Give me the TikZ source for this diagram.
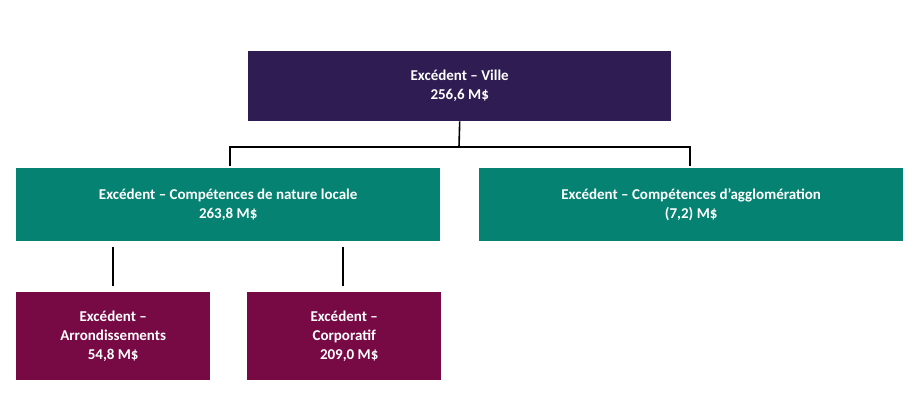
\documentclass[tikz,border=0pt]{standalone}
\usepackage{fontspec}
\setmainfont{Carlito}
\definecolor{topc}{HTML}{2F1C52}
\definecolor{greenc}{HTML}{058271}
\definecolor{wine}{HTML}{770A45}
\begin{document}
\begin{tikzpicture}[x=1pt,y=-1pt,
  box/.style={draw=none,text=white,font=\bfseries\fontsize{15}{19}\selectfont,align=center,inner sep=0pt,anchor=north west},
  conn/.style={line width=1.6pt,black}]
\useasboundingbox (0,0) rectangle (913,401);
\node[box,fill=topc,minimum width=423pt,minimum height=70pt] (top) at (248,51) {Excédent – Ville\\256,6 M\$};
\node[box,fill=greenc,minimum width=424pt,minimum height=73pt] (loc) at (16,168) {Excédent – Compétences de nature locale\\263,8 M\$};
\node[box,fill=greenc,minimum width=424pt,minimum height=73pt] (agg) at (479,168) {Excédent – Compétences d'agglomération\\(7,2) M\$};
\node[box,fill=wine,minimum width=194pt,minimum height=88pt] (arr) at (16,292) {Excédent –\\Arrondissements\\54,8 M\$};
\node[box,fill=wine,minimum width=194pt,minimum height=88pt] (corp) at (247,292) {Excédent –\\Corporatif\\\hspace*{10pt}209,0 M\$};
\coordinate (j) at (459,147);
\coordinate (l1) at (230,147); \coordinate (l2) at (230,166);
\coordinate (r1) at (690,147); \coordinate (r2) at (690,166);
\coordinate (a1) at (113,247); \coordinate (a2) at (113,286);
\coordinate (c1) at (343,247); \coordinate (c2) at (343,286);
\draw[conn] (top.south) -- (j);
\draw[conn] (l2) -- (l1) -- (r1) -- (r2);
\draw[conn] (a1) -- (a2);
\draw[conn] (c1) -- (c2);
\end{tikzpicture}
\end{document}
